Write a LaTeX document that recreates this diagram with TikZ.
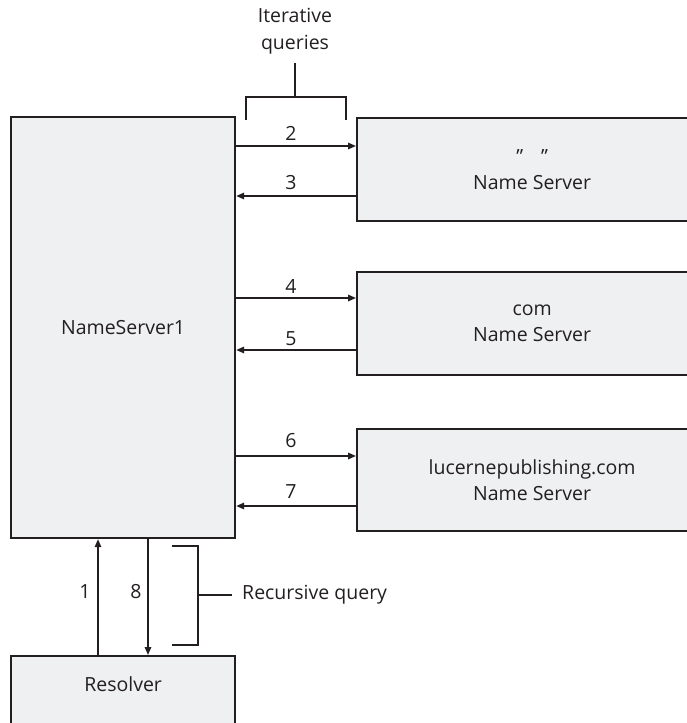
\documentclass[tikz,border=0pt]{standalone}
\usepackage{fontspec}
\setmainfont{Open Sans}
\usetikzlibrary{arrows.meta,positioning}
\definecolor{linec}{HTML}{231F20}
\definecolor{boxfill}{HTML}{EFF0F1}
\tikzset{
  srv/.style = {draw=linec, fill=boxfill, line width=2.2pt, rectangle, anchor=north west, inner sep=0pt, align=center, text=linec, font=\fontsize{19.5}{26}\selectfont},
  arrow/.style = {line width=1.6pt, draw=linec, -{Triangle[length=8pt,width=6.5pt]}},
  brk/.style = {line width=1.6pt, draw=linec},
  lbl/.style = {font=\fontsize{19.5}{27}\selectfont, text=linec, inner sep=0pt, align=center}
}
\begin{document}
\begin{tikzpicture}[x=1pt, y=-1pt]
  \useasboundingbox (0,0) rectangle (687,723);
  % servers
  \node[srv, minimum width=224pt, minimum height=421pt] (ns1) at (10,116) {NameServer1};
  \node[srv, minimum width=350pt, minimum height=103pt] (root) at (356,117) {\char"201D\hspace{18pt}\char"201D\\Name Server};
  \node[srv, minimum width=350pt, minimum height=103pt] (com) at (356,271) {com\\Name Server};
  \node[srv, minimum width=350pt, minimum height=102pt] (lucerne) at (356,428) {lucernepublishing.com\\Name Server};
  \node[srv, minimum width=224pt, minimum height=90pt] (res) at (10,655) {\raisebox{10pt}[0pt][0pt]{Resolver}};
  % iterative queries
  \draw[arrow] (ns1.east |- 0,146) -- (root.west |- 0,146);
  \draw[arrow] (root.west |- 0,196) -- (ns1.east |- 0,196);
  \draw[arrow] (ns1.east |- 0,298) -- (com.west |- 0,298);
  \draw[arrow] (com.west |- 0,350) -- (ns1.east |- 0,350);
  \draw[arrow] (ns1.east |- 0,456) -- (lucerne.west |- 0,456);
  \draw[arrow] (lucerne.west |- 0,506) -- (ns1.east |- 0,506);
  \node[lbl] (n2) at (291,133) {2};
  \node[lbl] (n3) at (291,183) {3};
  \node[lbl] (n4) at (291,286) {4};
  \node[lbl] (n5) at (291,339) {5};
  \node[lbl] (n6) at (291,441) {6};
  \node[lbl] (n7) at (291,492) {7};
  % recursive query
  \draw[arrow] (res.north -| 98,0) -- (ns1.south -| 98,0);
  \draw[arrow] (ns1.south -| 148,0) -- (res.north -| 148,0);
  \node[lbl] (n1) at (85,592) {1};
  \node[lbl] (n8) at (136,592) {8};
  % brackets
  \coordinate (itop) at (295,63);
  \draw[brk] (246,120) -- (246,97) -- (346,97) -- (346,120);
  \draw[brk] (295,97) -- (itop);
  \node[lbl, anchor=south] (iter) at ([yshift=9pt]itop) {Iterative\\queries};
  \coordinate (rmid) at (232,595);
  \draw[brk] (172,546) -- (198,546) -- (198,645) -- (172,645);
  \draw[brk] (198,595) -- (rmid);
  \node[lbl, anchor=west] (rec) at ([xshift=10pt]rmid) {Recursive query};
\end{tikzpicture}
\end{document}
